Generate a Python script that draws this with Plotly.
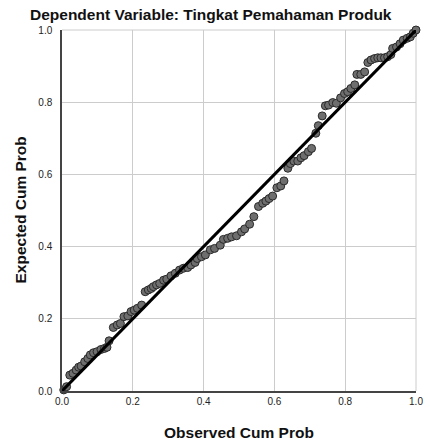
import plotly.graph_objects as go

title_text = "Dependent Variable: Tingkat Pemahaman Produk"
x_title = "Observed Cum Prob"
y_title = "Expected Cum Prob"
tick_vals = [0.0, 0.2, 0.4, 0.6, 0.8, 1.0]
tick_text = ["0.0", "0.2", "0.4", "0.6", "0.8", "1.0"]

observed = [0.005, 0.013, 0.022, 0.031, 0.04, 0.047, 0.054, 0.064, 0.073, 0.08,
            0.089, 0.099, 0.11, 0.12, 0.127, 0.133, 0.145, 0.156, 0.165, 0.175,
            0.186, 0.195, 0.204, 0.213, 0.225, 0.235, 0.244, 0.252, 0.258, 0.267,
            0.276, 0.287, 0.296, 0.308, 0.32, 0.332, 0.343, 0.355, 0.364, 0.376,
            0.382, 0.394, 0.405, 0.419, 0.431, 0.447, 0.456, 0.468, 0.479, 0.493,
            0.507, 0.516, 0.53, 0.542, 0.555, 0.567, 0.576, 0.585, 0.595, 0.607,
            0.618, 0.627, 0.638, 0.645, 0.655, 0.666, 0.675, 0.684, 0.696, 0.705,
            0.717, 0.724, 0.735, 0.744, 0.753, 0.765, 0.775, 0.787, 0.798, 0.807,
            0.816, 0.827, 0.833, 0.844, 0.855, 0.864, 0.873, 0.883, 0.892, 0.901,
            0.911, 0.92, 0.929, 0.934, 0.945, 0.955, 0.964, 0.975, 0.984, 0.992, 1.0]
expected = [0.003, 0.012, 0.044, 0.049, 0.058, 0.066, 0.069, 0.081, 0.09, 0.1,
            0.106, 0.109, 0.115, 0.118, 0.121, 0.139, 0.176, 0.183, 0.187, 0.206,
            0.208, 0.22, 0.224, 0.229, 0.238, 0.275, 0.28, 0.284, 0.289, 0.294,
            0.298, 0.307, 0.31, 0.319, 0.326, 0.335, 0.34, 0.342, 0.349, 0.356,
            0.367, 0.372, 0.377, 0.391, 0.395, 0.404, 0.42, 0.423, 0.427, 0.43,
            0.441, 0.449, 0.462, 0.483, 0.511, 0.52, 0.526, 0.533, 0.54, 0.563,
            0.568, 0.582, 0.617, 0.63, 0.637, 0.637, 0.646, 0.652, 0.663, 0.672,
            0.714, 0.735, 0.762, 0.79, 0.792, 0.799, 0.797, 0.812, 0.824, 0.829,
            0.838, 0.848, 0.877, 0.877, 0.884, 0.91, 0.917, 0.921, 0.923, 0.923,
            0.923, 0.926, 0.932, 0.949, 0.953, 0.962, 0.972, 0.977, 0.981, 0.991, 1.0]
ref_line = [0.0, 1.0]

FONT = "Liberation Sans, Arial, sans-serif"
GRID = "#cccccc"

fig = go.Figure()
fig.add_trace(go.Scatter(
    x=observed, y=expected, mode="markers",
    marker=dict(size=8, color="#6e6e6e", line=dict(color="#2a2a2a", width=1)),
    showlegend=False, cliponaxis=False))
fig.add_trace(go.Scatter(
    x=ref_line, y=ref_line, mode="lines",
    line=dict(color="#000000", width=3), showlegend=False))

axis_common = dict(
    range=[0, 1], tickvals=tick_vals, ticktext=tick_text,
    showgrid=True, gridcolor=GRID, gridwidth=1,
    zeroline=False, showline=True, linecolor="#444444", linewidth=1.5,
    ticks="", tickfont=dict(family=FONT, size=10, color="#222222"),
    ticklabeloverflow="allow", fixedrange=True)

fig.update_layout(
    width=430, height=443,
    margin=dict(l=62, r=7, t=30, b=52),
    paper_bgcolor="white", plot_bgcolor="white",
    xaxis=dict(**axis_common),
    yaxis=dict(**axis_common, ticklabelstandoff=6),
    font=dict(family=FONT),
    shapes=[
        dict(type="line", xref="paper", yref="paper", x0=1, x1=1, y0=0, y1=1,
             line=dict(color=GRID, width=1), layer="below"),
        dict(type="line", xref="paper", yref="paper", x0=0, x1=1, y0=1, y1=1,
             line=dict(color=GRID, width=1), layer="below"),
    ],
    annotations=[
        dict(text="<b>" + title_text + "</b>", x=0.5, y=1.0, xref="paper", yref="paper",
             xanchor="center", yanchor="bottom", yshift=6, borderpad=0, showarrow=False,
             font=dict(family=FONT, size=15.5, color="#111111"), xshift=-28),
        dict(text="<b>" + x_title + "</b>", x=0.5, y=0, xref="paper", yref="paper",
             xanchor="center", yanchor="middle", yshift=-41, showarrow=False,
             font=dict(family=FONT, size=15.5, color="#111111")),
        dict(text="<b>" + y_title + "</b>", x=0, y=0.5, xref="paper", yref="paper",
             xanchor="center", yanchor="middle", xshift=-42, showarrow=False,
             textangle=-90, font=dict(family=FONT, size=15.5, color="#111111")),
    ],
)

fig.write_html("out.html")
